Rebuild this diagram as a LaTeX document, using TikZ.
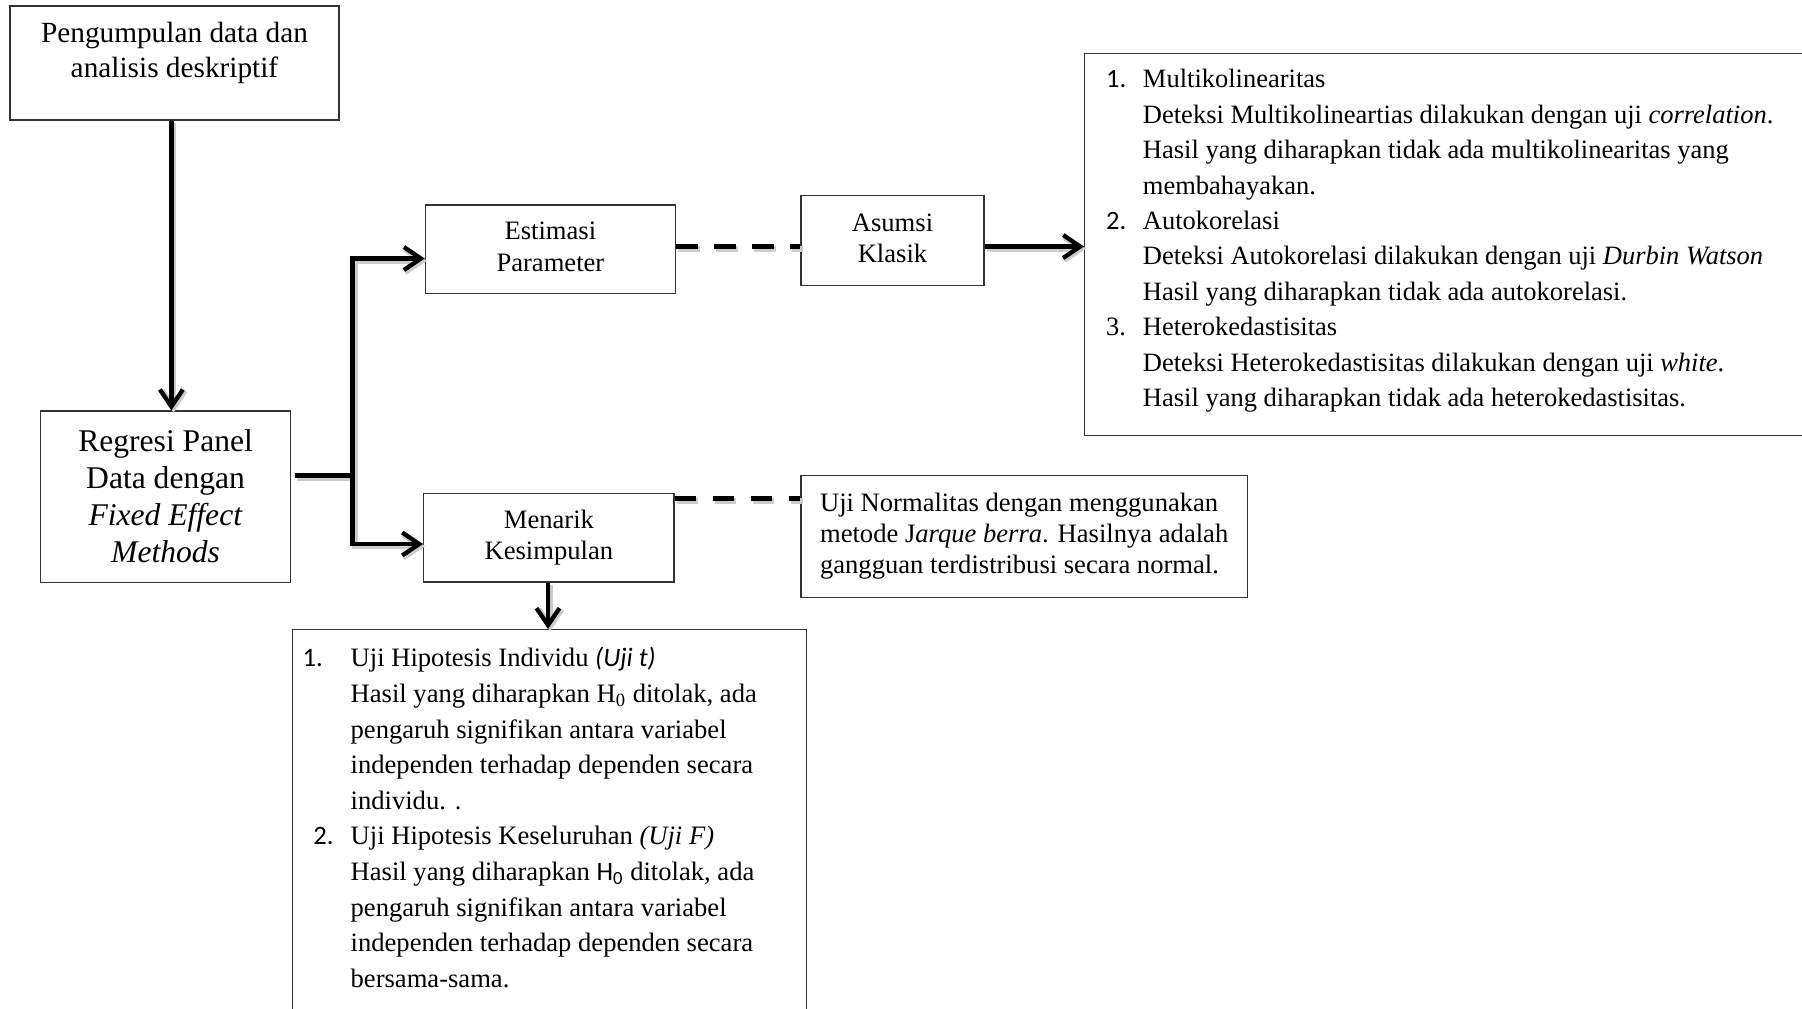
\documentclass[tikz,border=0pt]{standalone}
\usepackage{fontspec}
\setmainfont{Liberation Serif}
\newfontfamily\calfont{Carlito}
\usetikzlibrary{arrows.meta}
\newcommand\mynum[2][18.45pt]{\makebox[#1][l]{#2}}
\newcommand\myind[1][18.45pt]{\hspace*{#1}}
\newcommand\liftc[2]{\raisebox{#1}[\height][\depth]{\begin{tabular}{@{}c@{}}#2\end{tabular}}}
\newcommand\liftp[3]{\raisebox{#1}[\height][\depth]{\parbox{#2}{\raggedright #3}}}
\begin{document}
\begin{tikzpicture}[x=0.5pt,y=-0.5pt,
  box/.style={draw=black!80, line width=0.65pt, inner sep=0pt},
  conn/.style={line width=2.15pt, preaction={draw=black!20, line width=2.8pt, transform canvas={shift={(1.1pt,-1.1pt)}}}},
  arr/.style={conn, -{Straight Barb[length=8.5pt,width=11.5pt]}},
  dsh/.style={line width=2.4pt, dash pattern=on 10.75pt off 8.25pt,
    preaction={draw=black!20, line width=2.8pt, dash pattern=on 10.75pt off 8.25pt, transform canvas={shift={(1.1pt,-1.1pt)}}}},
]
\useasboundingbox (0,0) rectangle (1802,1008);
\fill[white] (0,0) rectangle (1802,1008);

% boxes
\node[box, minimum width=164.5pt, minimum height=57pt] (b1) at (174.5,63)
  {\parbox[c][57pt][t]{164pt}{\centering\fontsize{14.65}{17.4}\selectfont\rule{0pt}{18.2pt}Pengumpulan data dan\\analisis deskriptif}};

\node[box, minimum width=125pt, minimum height=85.7pt, font=\fontsize{15.8}{18.5}\selectfont] (b2) at (165.6,496.7)
  {\liftc{-1.3pt}{Regresi Panel\\Data dengan\\\textit{Fixed Effect}\\\textit{Methods}}};

\node[box, minimum width=125pt, minimum height=44.35pt, font=\fontsize{13.3}{16}\selectfont] (est) at (550.4,249.3)
  {\liftc{0pt}{Estimasi\\Parameter}};

\node[box, minimum width=125.2pt, minimum height=44.35pt, font=\fontsize{13.3}{15.5}\selectfont] (men) at (548.9,537.7)
  {\liftc{0pt}{Menarik\\Kesimpulan}};

\node[box, minimum width=91.5pt, minimum height=44.8pt, font=\fontsize{13.3}{15.5}\selectfont] (asu) at (892.5,240.5)
  {\liftc{0pt}{Asumsi\\Klasik}};

\node[box, anchor=north west, minimum height=190.75pt, minimum width=365.4pt,
      font=\fontsize{13.25}{17.7}\selectfont] (big) at (1084,53)
  {\liftp{1.75pt}{344pt}{\mynum{\calfont 1.}Multikolinearitas\\
   \myind Deteksi Multikolineartias dilakukan dengan uji \textit{correlation}.\\
   \myind Hasil yang diharapkan tidak ada multikolinearitas yang\\
   \myind membahayakan.\\
   \mynum{\calfont 2.}Autokorelasi\\
   \myind Deteksi Autokorelasi dilakukan dengan uji \textit{Durbin Watson}\\
   \myind Hasil yang diharapkan tidak ada autokorelasi.\\
   \mynum{3.}Heterokedastisitas\\
   \myind Deteksi Heterokedastisitas dilakukan dengan uji \textit{white}.\\
   \myind Hasil yang diharapkan tidak ada heterokedastisitas.}};

\node[box, minimum width=223.15pt, minimum height=61pt, font=\fontsize{13.3}{15.5}\selectfont] (nor) at (1024.2,536.7)
  {\begin{tabular}{@{}l@{}}Uji Normalitas dengan menggunakan\\metode J\textit{arque berra}. Hasilnya adalah\\gangguan terdistribusi secara normal.\end{tabular}};

\node[box, anchor=north west, minimum height=191.5pt, minimum width=257pt,
      font=\fontsize{13.3}{17.8}\selectfont] (bot) at (292,629)
  {\liftp{1.75pt}{247pt}{\mynum[24pt]{\calfont 1.}Uji Hipotesis Individu {\calfont\itshape (Uji t)}\\
   \myind[24pt]Hasil yang diharapkan H\textsubscript{0} ditolak, ada\\
   \myind[24pt]pengaruh signifikan antara variabel\\
   \myind[24pt]independen terhadap dependen secara\\
   \myind[24pt]individu. .\\
   \myind[5.4pt]\mynum[18.6pt]{\calfont 2.}Uji Hipotesis Keseluruhan \textit{(Uji F)}\\
   \myind[24pt]Hasil yang diharapkan {\calfont H\textsubscript{0}} ditolak, ada\\
   \myind[24pt]pengaruh signifikan antara variabel\\
   \myind[24pt]independen terhadap dependen secara\\
   \myind[24pt]bersama-sama.}};

% helper coordinates
\coordinate (ax) at (171.4,0);
\coordinate (mx) at (548,0);
\coordinate (fk) at (352.5,475.5);
\coordinate (fkT) at (352.5,258.5);
\coordinate (fkB) at (352.5,544);
\coordinate (dy1) at (0,246.5);
\coordinate (dy2) at (0,498.5);

% connectors
\draw[arr] (b1.south -| ax) -- (b2.north -| ax);
\draw[conn] ([xshift=2pt]b2.east |- fk) -- (fk);
\draw[conn, {Straight Barb[length=8.5pt,width=11.5pt]}-{Straight Barb[length=8.5pt,width=11.5pt]}]
  (est.west |- fkT) -- (fkT) -- (fkB) -- (men.west |- fkB);
\draw[arr] (men.south -| mx) -- (bot.north -| mx);
\draw[dsh] (est.east |- dy1) -- (asu.west |- dy1);
\draw[arr] (asu.east |- dy1) -- (big.west |- dy1);
\draw[dsh] (men.east |- dy2) -- (nor.west |- dy2);
\end{tikzpicture}
\end{document}
